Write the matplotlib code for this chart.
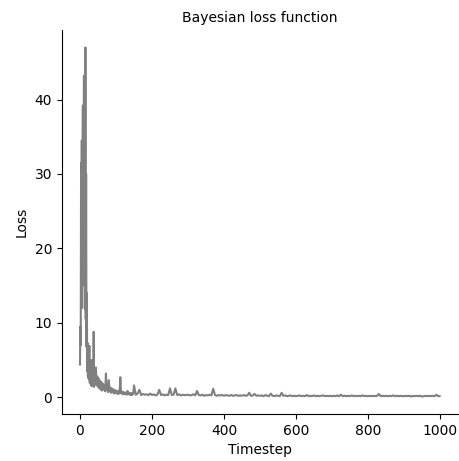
import numpy as np
import matplotlib
matplotlib.use("Agg")
import matplotlib.pyplot as plt

# Loss values (dense early, sparser later)
early_steps = np.arange(0, 41, 1)
early_loss = [4.4, 9.5, 7.0, 31.5, 18.0, 34.5, 12.0, 30.0, 39.2, 20.5,
              27.0, 43.2, 15.0, 38.0, 11.8, 47.0, 10.5, 30.0, 6.8, 14.0,
              3.5, 7.3, 2.8, 5.5, 2.5, 4.2, 6.9, 2.0, 4.8, 1.8,
              3.9, 1.6, 5.0, 1.5, 3.4, 1.9, 4.5, 2.1, 8.8, 1.4,
              3.6]

mid_steps = np.arange(42, 151, 2)
mid_loss = [3.0, 4.0, 1.6, 2.8, 1.4, 2.5, 1.2, 2.2, 1.0, 2.0,
            0.9, 1.8, 1.1, 1.6, 0.8, 3.2, 1.0, 1.5, 0.7, 2.3,
            0.8, 1.3, 0.6, 1.2, 0.7, 1.1, 0.5, 1.0, 0.6, 0.9,
            0.5, 0.8, 0.45, 0.9, 0.5, 2.7, 0.6, 0.8, 0.4, 0.7,
            0.45, 0.65, 0.4, 0.6, 0.35, 0.85, 0.4, 0.6, 0.35, 0.55,
            0.3, 0.55, 0.35, 0.5, 1.6]

late_steps = np.append(np.arange(155, 996, 5), 999)
late_loss = [0.35, 0.5, 1.0, 0.3, 0.45, 0.35, 0.4, 0.3, 0.5,
             # 200-295
             0.3, 0.4, 0.25, 0.35, 1.0, 0.3, 0.4, 0.25, 0.35, 0.3,
             1.2, 0.3, 0.35, 1.2, 0.3, 0.4, 0.25, 0.35, 0.3, 0.3,
             # 300-395
             0.35, 0.25, 0.3, 0.4, 0.25, 0.85, 0.3, 0.25, 0.35, 0.2,
             0.3, 0.25, 0.35, 0.25, 1.15, 0.3, 0.2, 0.3, 0.25, 0.3,
             # 400-495
             0.2, 0.3, 0.25, 0.2, 0.3, 0.2, 0.25, 0.3, 0.2, 0.25,
             0.2, 0.3, 0.2, 0.25, 0.6, 0.2, 0.25, 0.45, 0.2, 0.25,
             # 500-595
             0.2, 0.25, 0.15, 0.3, 0.2, 0.15, 0.5, 0.2, 0.15, 0.25,
             0.2, 0.15, 0.6, 0.2, 0.25, 0.15, 0.2, 0.25, 0.15, 0.2,
             # 600-695
             0.15, 0.2, 0.25, 0.15, 0.2, 0.15, 0.3, 0.15, 0.2, 0.15,
             0.25, 0.15, 0.2, 0.15, 0.2, 0.25, 0.15, 0.2, 0.15, 0.2,
             # 700-795
             0.15, 0.2, 0.15, 0.25, 0.15, 0.35, 0.15, 0.2, 0.15, 0.2,
             0.15, 0.25, 0.15, 0.2, 0.15, 0.2, 0.15, 0.25, 0.15, 0.2,
             # 800-895
             0.15, 0.2, 0.15, 0.2, 0.15, 0.2, 0.45, 0.15, 0.2, 0.15,
             0.2, 0.15, 0.2, 0.15, 0.25, 0.15, 0.2, 0.15, 0.2, 0.15,
             # 900-995
             0.15, 0.2, 0.15, 0.2, 0.1, 0.2, 0.15, 0.2, 0.15, 0.2,
             0.1, 0.15, 0.2, 0.15, 0.2, 0.15, 0.2, 0.15, 0.35, 0.15,
             # 999
             0.15]

timesteps = np.concatenate([early_steps, mid_steps, late_steps])
loss = np.concatenate([early_loss, mid_loss, late_loss])

fig = plt.figure(figsize=(4.6, 4.61), dpi=100)
ax = fig.add_axes([62 / 460, 47 / 461, 396 / 460, 384 / 461])
ax.plot(timesteps, loss, color="gray", linewidth=1.5)

ax.set_title("Bayesian loss function", fontsize=10)
ax.set_xlabel("Timestep", fontsize=10)
ax.set_ylabel("Loss", fontsize=10)
ax.tick_params(labelsize=10)
ax.set_xticks([0, 200, 400, 600, 800, 1000])
ax.set_yticks([0, 10, 20, 30, 40])
ax.set_xlim(-50, 1050)
ax.spines["top"].set_visible(False)
ax.spines["right"].set_visible(False)

plt.savefig("out.png", dpi=100)
